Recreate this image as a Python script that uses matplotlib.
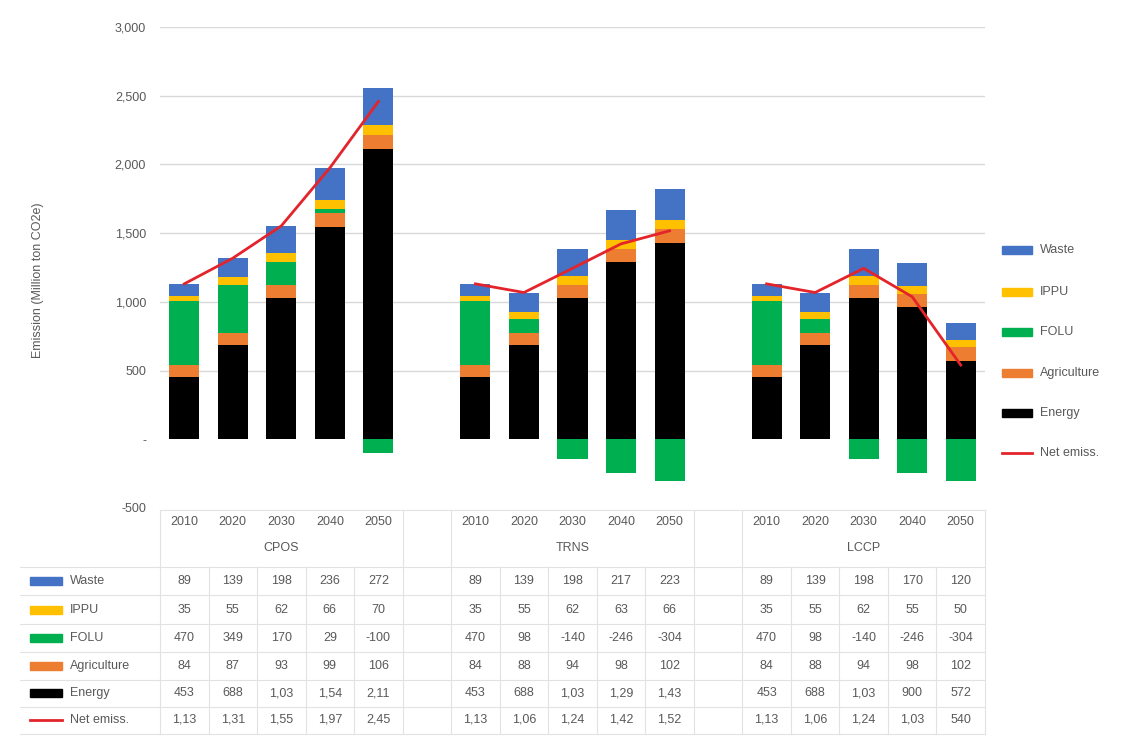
import matplotlib
matplotlib.use("Agg")
import matplotlib.pyplot as plt
from matplotlib.patches import Rectangle
from matplotlib.lines import Line2D
from matplotlib.transforms import blended_transform_factory
import numpy as np

plt.rcParams['font.family'] = ['Liberation Sans', 'DejaVu Sans']

years = ["2010", "2020", "2030", "2040", "2050"]
scenarios = ["CPOS", "TRNS", "LCCP"]

waste = {"CPOS": [89, 139, 198, 236, 272], "TRNS": [89, 139, 198, 217, 223], "LCCP": [89, 139, 198, 170, 120]}
ippu = {"CPOS": [35, 55, 62, 66, 70], "TRNS": [35, 55, 62, 63, 66], "LCCP": [35, 55, 62, 55, 50]}
folu = {"CPOS": [470, 349, 170, 29, -100], "TRNS": [470, 98, -140, -246, -304], "LCCP": [470, 98, -140, -246, -304]}
agri = {"CPOS": [84, 87, 93, 99, 106], "TRNS": [84, 88, 94, 98, 102], "LCCP": [84, 88, 94, 98, 102]}
energy = {"CPOS": [453, 688, 1030, 1545, 2110], "TRNS": [453, 688, 1030, 1290, 1430], "LCCP": [453, 688, 1030, 960, 572]}
net = {"CPOS": [1131, 1318, 1553, 1975, 2458], "TRNS": [1131, 1068, 1244, 1422, 1517], "LCCP": [1131, 1068, 1244, 1037, 540]}

# table labels as displayed (Excel truncated)
tbl_energy = {"CPOS": ["453", "688", "1,03", "1,54", "2,11"], "TRNS": ["453", "688", "1,03", "1,29", "1,43"], "LCCP": ["453", "688", "1,03", "900", "572"]}
tbl_net = {"CPOS": ["1,13", "1,31", "1,55", "1,97", "2,45"], "TRNS": ["1,13", "1,06", "1,24", "1,42", "1,52"], "LCCP": ["1,13", "1,06", "1,24", "1,03", "540"]}

yticks = [-500, 0, 500, 1000, 1500, 2000, 2500, 3000]
ytick_labels = ["-500", "-", "500", "1,000", "1,500", "2,000", "2,500", "3,000"]

colors = {"Waste": "#4472C4", "IPPU": "#FFC000", "FOLU": "#00B050", "Agriculture": "#ED7D31", "Energy": "#000000"}
net_color = "#E3242B"
txt_color = "#595959"
grid_color = "#D9D9D9"

W, H = 1126, 736
fig = plt.figure(figsize=(W / 100, H / 100), dpi=100)

def fx(px):
    return px / W

def fy(py):
    return 1 - py / H

left_px, right_px, top_px, bot_px = 160, 985, 27, 508
ax = fig.add_axes([fx(left_px), fy(bot_px), fx(right_px) - fx(left_px), fy(top_px) - fy(bot_px)])
ax.set_xlim(-0.5, 16.5)
ax.set_ylim(-500, 3000)
for s in ax.spines.values():
    s.set_visible(False)
ax.set_xticks([])
ax.set_yticks(yticks)
ax.set_yticklabels(ytick_labels, color=txt_color, fontsize=9)
ax.tick_params(axis='y', length=0, pad=10)
for t in yticks:
    if t > 0:
        ax.axhline(t, color=grid_color, lw=1, zorder=0)

bw = 0.62
for gi, sc in enumerate(scenarios):
    xs = np.arange(5) + gi * 6
    e = np.array(energy[sc]); a = np.array(agri[sc]); f = np.array(folu[sc])
    ip = np.array(ippu[sc]); w = np.array(waste[sc])
    pos_f = np.where(f > 0, f, 0)
    neg_f = np.where(f < 0, f, 0)
    ax.bar(xs, e, bw, color=colors["Energy"], zorder=2)
    ax.bar(xs, a, bw, bottom=e, color=colors["Agriculture"], zorder=2)
    ax.bar(xs, pos_f, bw, bottom=e + a, color=colors["FOLU"], zorder=2)
    ax.bar(xs, neg_f, bw, bottom=0, color=colors["FOLU"], zorder=2)
    ax.bar(xs, ip, bw, bottom=e + a + pos_f, color=colors["IPPU"], zorder=2)
    ax.bar(xs, w, bw, bottom=e + a + pos_f + ip, color=colors["Waste"], zorder=2)
    ax.plot(xs, net[sc], color=net_color, lw=2, zorder=3)

fig.text(fx(38), fy(280), "Emission (Million ton CO2e)", rotation=90, ha='center', va='center',
         color=txt_color, fontsize=9)

# legend on the right
leg_items = [("Waste", 250), ("IPPU", 292), ("FOLU", 332), ("Agriculture", 373), ("Energy", 413), ("Net emiss.", 453)]
for name, py in leg_items:
    if name == "Net emiss.":
        fig.add_artist(Line2D([fx(1002), fx(1032)], [fy(py), fy(py)], color=net_color, lw=2))
    else:
        fig.add_artist(Rectangle((fx(1002), fy(py + 4)), fx(30), 8 / H, color=colors[name], transform=fig.transFigure))
    fig.text(fx(1040), fy(py), name, ha='left', va='center', color=txt_color, fontsize=9)

# data table
tr = blended_transform_factory(ax.transData, fig.transFigure)
row_y = {"year": 522, "group": 548, "Waste": 581, "IPPU": 610, "FOLU": 638, "Agriculture": 666, "Energy": 693, "Net emiss.": 720}
line_kw = dict(color="#E2E2E2", lw=0.8)

# horizontal lines
for py in [567, 595, 624, 652, 680, 707, 734]:
    fig.add_artist(Line2D([fx(20), fx(985)], [fy(py), fy(py)], **line_kw))
fig.add_artist(Line2D([fx(160), fx(985)], [fy(510), fy(510)], **line_kw))
# vertical lines
for i in range(18):
    xb = i - 0.5
    full = i in (0, 5, 6, 11, 12, 17)
    y0 = 510 if full else 567
    fig.add_artist(Line2D([xb, xb], [fy(y0), fy(734)], transform=tr, **line_kw))

for gi, sc in enumerate(scenarios):
    xs = np.arange(5) + gi * 6
    for j, x in enumerate(xs):
        fig.text(x, fy(row_y["year"]), years[j], transform=tr, ha='center', va='center', color=txt_color, fontsize=9)
        vals = [("Waste", str(waste[sc][j])), ("IPPU", str(ippu[sc][j])), ("FOLU", str(folu[sc][j])),
                ("Agriculture", str(agri[sc][j])), ("Energy", tbl_energy[sc][j]), ("Net emiss.", tbl_net[sc][j])]
        for name, v in vals:
            fig.text(x, fy(row_y[name]), v, transform=tr, ha='center', va='center', color=txt_color, fontsize=9)
    fig.text(xs[2], fy(row_y["group"]), sc, transform=tr, ha='center', va='center', color=txt_color, fontsize=9)

for name, py in [(n, row_y[n]) for n in ["Waste", "IPPU", "FOLU", "Agriculture", "Energy", "Net emiss."]]:
    if name == "Net emiss.":
        fig.add_artist(Line2D([fx(30), fx(62)], [fy(py), fy(py)], color=net_color, lw=2))
    else:
        fig.add_artist(Rectangle((fx(30), fy(py + 4)), fx(32), 8 / H, color=colors[name], transform=fig.transFigure))
    fig.text(fx(70), fy(py), name, ha='left', va='center', color=txt_color, fontsize=9)

fig.savefig("out.png", dpi=100, facecolor="white")
